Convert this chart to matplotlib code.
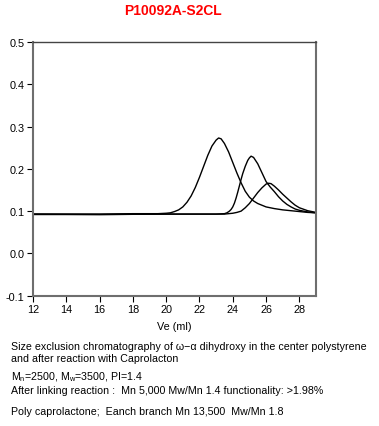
import matplotlib
matplotlib.use("Agg")
import matplotlib.pyplot as plt

plt.rcParams['font.family'] = ['Liberation Sans', 'DejaVu Sans']
plt.rcParams['mathtext.default'] = 'regular'

# Curve 1: polystyrene center block (largest peak)
ve_ps = [12.0, 14.0, 16.0, 18.0, 19.5, 20.0, 20.25, 20.5, 20.75, 21.0, 21.25, 21.5, 21.75,
         22.0, 22.25, 22.5, 22.75, 23.0, 23.15, 23.3, 23.5, 23.75, 24.0, 24.25, 24.5, 24.75,
         25.0, 25.25, 25.5, 26.0, 26.5, 27.0, 27.5, 28.0, 28.5, 29.0]
sig_ps = [0.093, 0.093, 0.093, 0.094, 0.094, 0.095, 0.096, 0.099, 0.103, 0.110, 0.121, 0.136, 0.156,
          0.180, 0.206, 0.232, 0.254, 0.268, 0.273, 0.271, 0.260, 0.240, 0.215, 0.190, 0.167, 0.147,
          0.133, 0.124, 0.118, 0.110, 0.106, 0.103, 0.101, 0.099, 0.097, 0.096]

# Curve 2: after linking reaction
ve_link = [12.0, 16.0, 20.0, 23.0, 23.5, 23.65, 23.8, 23.9, 24.0, 24.1, 24.2, 24.3, 24.4, 24.5,
           24.6, 24.75, 24.9, 25.0, 25.1, 25.25, 25.5, 25.75, 26.0, 26.25, 26.5, 26.75, 27.0,
           27.25, 27.5, 27.75, 28.0, 28.5, 29.0]
sig_link = [0.092, 0.092, 0.093, 0.093, 0.094, 0.096, 0.100, 0.104, 0.110, 0.119, 0.131, 0.145, 0.160, 0.175,
            0.189, 0.206, 0.220, 0.226, 0.230, 0.227, 0.212, 0.191, 0.170, 0.157, 0.146, 0.134, 0.124,
            0.116, 0.110, 0.105, 0.102, 0.098, 0.096]

# Curve 3: poly caprolactone branches
ve_pcl = [12.0, 16.0, 20.0, 23.5, 24.0, 24.25, 24.5, 24.75, 25.0, 25.25, 25.5, 25.75, 26.0, 26.15,
          26.3, 26.5, 26.75, 27.0, 27.25, 27.5, 27.75, 28.0, 28.5, 29.0]
sig_pcl = [0.093, 0.092, 0.093, 0.093, 0.095, 0.097, 0.100, 0.108, 0.118, 0.131, 0.144, 0.155, 0.164, 0.166,
           0.165, 0.159, 0.150, 0.140, 0.131, 0.122, 0.114, 0.108, 0.101, 0.097]

x_ticks = [12, 14, 16, 18, 20, 22, 24, 26, 28]
y_ticks = [-0.1, 0.0, 0.1, 0.2, 0.3, 0.4, 0.5]
y_labels = ['-0.1', '0.0', '0.1', '0.2', '0.3', '0.4', '0.5']

title = "P10092A-S2CL"
xlabel = "Ve (ml)"
caption1a = "Size exclusion chromatography of \u03c9\u2212\u03b1 dihydroxy in the center polystyrene"
caption1b = "and after reaction with Caprolacton"
caption2 = "M$_n$=2500, M$_w$=3500, PI=1.4"
caption3 = "After linking reaction :  Mn 5,000 Mw/Mn 1.4 functionality: >1.98%"
caption4 = "Poly caprolactone;  Eanch branch Mn 13,500  Mw/Mn 1.8"

fig = plt.figure(figsize=(3.79, 4.27), dpi=100)
ax = fig.add_axes([33/379, 1-296.7/427, (316-33)/379, (296.7-43)/427])

for xs, ys in [(ve_ps, sig_ps), (ve_link, sig_link), (ve_pcl, sig_pcl)]:
    ax.plot(xs, ys, color='black', lw=1.0, solid_joinstyle='round')

ax.set_xlim(12, 29)
ax.set_ylim(-0.1, 0.5)
ax.set_xticks(x_ticks)
ax.set_yticks(y_ticks)
ax.set_yticklabels(y_labels)
ax.tick_params(direction='out', length=4, width=0.8, color='black', labelsize=7.8, pad=2)
for s in ['left', 'bottom', 'right']:
    ax.spines[s].set_color('#6e6e6e')
    ax.spines[s].set_linewidth(1.5)
ax.spines['top'].set_color('#444444')
ax.spines['top'].set_linewidth(1.0)

ax.set_xlabel(xlabel, fontsize=7.8, labelpad=5)

fig.text(173/379, 1-11/427, title, color='#ff0000', fontsize=10, fontweight='bold',
         ha='center', va='center')
fs = 7.65
x0 = 11/379
fig.text(x0, 1-347/427, caption1a, fontsize=fs, ha='left', va='center')
fig.text(x0, 1-359/427, caption1b, fontsize=fs, ha='left', va='center')
fig.text(x0, 1-377/427, caption2, fontsize=fs, ha='left', va='center')
fig.text(x0, 1-391/427, caption3, fontsize=fs, ha='left', va='center')
fig.text(x0, 1-412/427, caption4, fontsize=fs, ha='left', va='center')

fig.savefig("out.png", dpi=100)
